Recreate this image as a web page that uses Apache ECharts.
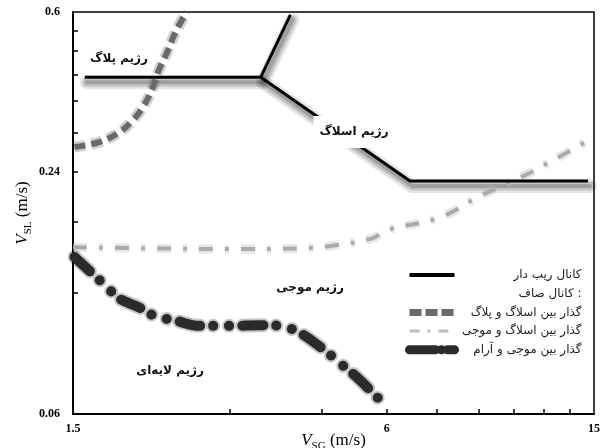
<!DOCTYPE html>
<html>
<head>
<meta charset="utf-8">
<script src="https://cdn.jsdelivr.net/npm/echarts@6/dist/echarts.min.js"></script>
<style>html,body{margin:0;padding:0;background:#fff}#c{width:611px;height:448px}</style>
</head>
<body>
<div id="c"></div>
<script>
// Tick values (m/s)
const xTicks = [3, 4.5, 6, 7.5, 9, 10.5, 12, 13.5];
const xLabels = [1.5, 6, 15];
const yTicks = [0.12, 0.18, 0.24, 0.3, 0.36, 0.42, 0.48, 0.54];
const yLabels = [0.06, 0.24, 0.6];

// Series names
const nRibbed = 'کانال ریب دار';
const nSmooth = 'کانال صاف :';
const nSlugPlug = 'گذار بین اسلاگ و پلاگ';
const nSlugWavy = 'گذار بین اسلاگ و موجی';
const nWavyStrat = 'گذار بین موجی و آرام';

// Data [VSG, VSL]
const ribbedMain = [[1.58, 0.413], [3.44, 0.413], [6.65, 0.228], [14.6, 0.228]];
const ribbedBranch = [[3.44, 0.413], [3.92, 0.59]];
const slugPlug = [[1.51, 0.277], [1.69, 0.285], [1.846, 0.302], [1.955, 0.323], [2.043, 0.348],
  [2.125, 0.384], [2.18, 0.423], [2.27, 0.474], [2.37, 0.541], [2.48, 0.6]];
const slugWavy = [[1.5, 0.156], [2.11, 0.155], [3.0, 0.1543], [4.09, 0.155], [4.82, 0.1579],
  [5.64, 0.1643], [6.01, 0.172], [7.6, 0.185], [9.05, 0.209], [10.8, 0.232], [12.74, 0.26], [15, 0.293]];
const wavyStrat = [[1.51, 0.1475], [1.67, 0.1307], [1.745, 0.1242], [1.83, 0.1167], [2.015, 0.1103],
  [2.17, 0.1047], [2.33, 0.1029], [2.63, 0.0994], [3.03, 0.0994], [3.43, 0.0998], [3.75, 0.0994],
  [4.09, 0.0954], [4.37, 0.0901], [4.61, 0.0855], [4.88, 0.0803], [5.26, 0.0741], [5.57, 0.0689], [5.95, 0.0632]];

const lg = v => Math.log10(v);
const toLog = pts => pts.map(p => [lg(p[0]), lg(p[1])]);
const fmt = v => String(parseFloat(Math.pow(10, v).toPrecision(3)));

const serif = 'Liberation Serif';
const fa = 'DejaVu Sans';

const chart = echarts.init(document.getElementById('c'));

const ribbedStyle = {color: '#000', width: 3, join: 'miter'};
const slugPlugDash = [11, 6];
const slugWavyDash = [14, 12, 4, 12];
const wavyStratDash = [21, 13, 0.1, 16, 0.1, 13];

const richName = {
  i: {fontFamily: serif, fontStyle: 'italic', fontSize: 17, color: '#000', lineHeight: 20, verticalAlign: 'bottom'},
  s: {fontFamily: serif, fontSize: 11, color: '#000', lineHeight: 20, verticalAlign: 'bottom', padding: [0, 0, -3, 0]},
  n: {fontFamily: serif, fontSize: 17, color: '#000', lineHeight: 20, verticalAlign: 'bottom'}
};

const hiddenAxis = (min, max, gi) => ({type: 'value', gridIndex: gi, min: min, max: max, show: false});

// line helper
const mk = (name, data, xi, lineStyle, z, smooth) => ({
  name: name, type: 'line', data: data, xAxisIndex: xi, yAxisIndex: xi, symbol: 'none',
  smooth: smooth ? 0.4 : false, lineStyle: lineStyle, itemStyle: {color: lineStyle.color}, z: z,
  silent: true
});

chart.setOption({
  animation: false,
  backgroundColor: '#fff',
  grid: [
    {left: 73, right: 17, top: 12, bottom: 34, show: true, borderColor: '#000', borderWidth: 1.5, backgroundColor: 'transparent', outerBoundsMode: 'none', containLabel: false},
    {left: 75, right: 15, top: 17, bottom: 29, show: false, outerBoundsMode: 'none', containLabel: false}
  ],
  xAxis: [{
    type: 'value', min: lg(1.5), max: lg(15),
    name: '{i|V}{s|SG}{n| (m/s)}', nameLocation: 'middle', nameGap: 15, nameMoveOverlap: false,
    nameTextStyle: {rich: richName},
    splitLine: {show: false},
    axisLine: {lineStyle: {color: '#000', width: 2}},
    axisTick: {show: true, inside: true, length: 5, customValues: xTicks.map(lg), lineStyle: {color: '#000', width: 1.5}},
    axisLabel: {customValues: xLabels.map(lg), formatter: fmt, color: '#000', fontFamily: serif, fontWeight: 'bold', fontSize: 12, margin: 9}
  }, hiddenAxis(lg(1.5), lg(15), 1)],
  yAxis: [{
    type: 'value', min: lg(0.06), max: lg(0.6),
    name: '{i|V}{s|SL}{n| (m/s)}', nameLocation: 'middle', nameGap: 42, nameRotate: 90, nameMoveOverlap: false,
    nameTextStyle: {rich: richName},
    splitLine: {show: false},
    axisLine: {show: true, lineStyle: {color: '#000', width: 2}},
    axisTick: {show: true, inside: true, length: 5, customValues: yTicks.map(lg), lineStyle: {color: '#000', width: 1.5}},
    axisLabel: {customValues: yLabels.map(lg), formatter: fmt, color: '#000', fontFamily: serif, fontWeight: 'bold', fontSize: 12, margin: 13}
  }, hiddenAxis(lg(0.06), lg(0.6), 1)],
  legend: {
    orient: 'vertical', left: 400, top: 264, itemWidth: 45, itemHeight: 12, itemGap: 6.7,
    formatter: n => '{t|\u202A' + n + '\u202C}',
    textStyle: {color: '#222', rich: {
      t: {fontFamily: fa, fontSize: 12, color: '#222', width: 122, align: 'right'}
    }},
    data: [
      {name: nRibbed, itemStyle: {opacity: 0}, lineStyle: {color: '#000', width: 4}},
      {name: nSmooth, icon: 'rect', itemStyle: {opacity: 0}},
      {name: nSlugPlug, itemStyle: {opacity: 0}, lineStyle: {color: '#6a6a6a', width: 7, type: [12, 4]}},
      {name: nSlugWavy, itemStyle: {opacity: 0}, lineStyle: {color: '#bdbdbd', width: 3, type: [10, 8, 3, 8]}},
      {name: nWavyStrat, itemStyle: {opacity: 0}, lineStyle: {color: '#2b2b2b', width: 9, cap: 'round', type: [26, 6, 0.1, 6]}}
    ]
  },
  graphic: [
    {type: 'text', z: 100, x: 119, y: 59, style: {text: 'رژیم پلاگ', font: 'bold 12px "DejaVu Sans"', fill: '#111', align: 'center', verticalAlign: 'middle', backgroundColor: '#fff', padding: [4, 6]}},
    {type: 'text', z: 100, x: 354, y: 132, style: {text: 'رژیم اسلاگ', font: 'bold 12px "DejaVu Sans"', fill: '#111', align: 'center', verticalAlign: 'middle', backgroundColor: '#fff', padding: [10, 6]}},
    {type: 'text', z: 100, x: 310, y: 288, style: {text: 'رژیم موجی', font: 'bold 12px "DejaVu Sans"', fill: '#111', align: 'center', verticalAlign: 'middle'}},
    {type: 'text', z: 100, x: 170, y: 371, style: {text: 'رژیم لایه‌ای', font: 'bold 12px "DejaVu Sans"', fill: '#111', align: 'center', verticalAlign: 'middle'}}
  ],
  series: [
    // soft offset shadow of the ribbed-channel boundaries (drawn on the shifted grid)
    mk('shadowA', toLog(ribbedMain), 1, {color: 'rgba(0,0,0,0.1)', width: 14, cap: 'round', join: 'round'}, 1),
    mk('shadowA', toLog(ribbedBranch), 1, {color: 'rgba(0,0,0,0.1)', width: 14, cap: 'round', join: 'round'}, 1),
    mk('shadowB', toLog(ribbedMain), 1, {color: 'rgba(0,0,0,0.15)', width: 9, cap: 'round', join: 'round'}, 1),
    mk('shadowB', toLog(ribbedBranch), 1, {color: 'rgba(0,0,0,0.15)', width: 9, cap: 'round', join: 'round'}, 1),
    mk('shadowC', toLog(ribbedMain), 1, {color: 'rgba(0,0,0,0.18)', width: 4, cap: 'round', join: 'round'}, 1),
    mk('shadowC', toLog(ribbedBranch), 1, {color: 'rgba(0,0,0,0.18)', width: 4, cap: 'round', join: 'round'}, 1),
    // halos of smooth-channel transitions
    mk('haloSP', toLog(slugPlug), 0, {color: 'rgba(100,100,100,0.3)', width: 11, type: slugPlugDash}, 2, true),
    mk('haloSW', toLog(slugWavy), 0, {color: 'rgba(185,185,185,0.35)', width: 9, type: slugWavyDash}, 2, true),
    mk('haloWS', toLog(wavyStrat), 0, {color: 'rgba(0,0,0,0.22)', width: 14, cap: 'round', type: wavyStratDash}, 2, true),
    // main lines
    mk(nRibbed, toLog(ribbedMain), 0, ribbedStyle, 5),
    mk(nRibbed, toLog(ribbedBranch), 0, ribbedStyle, 5),
    {name: nSmooth, type: 'line', data: [], symbol: 'none', lineStyle: {opacity: 0}, itemStyle: {opacity: 0}},
    mk(nSlugPlug, toLog(slugPlug), 0, {color: '#6a6a6a', width: 6, type: slugPlugDash}, 4, true),
    mk(nSlugWavy, toLog(slugWavy), 0, {color: '#ababab', width: 4, type: slugWavyDash}, 3, true),
    mk(nWavyStrat, toLog(wavyStrat), 0, {color: '#2b2b2b', width: 10, cap: 'round', type: wavyStratDash}, 4, true)
  ]
});
</script>
</body>
</html>
